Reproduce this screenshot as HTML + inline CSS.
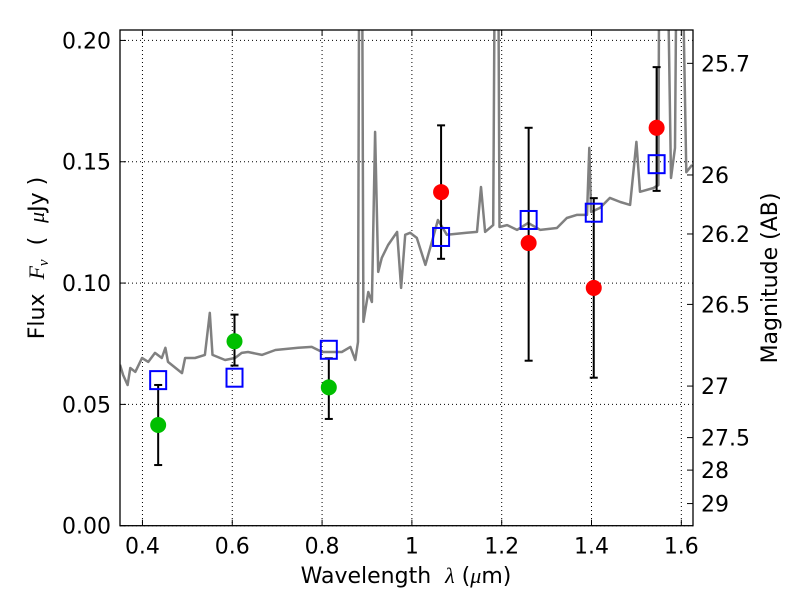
<!DOCTYPE html>
<html><head><meta charset="utf-8">
<style>
html,body{margin:0;padding:0;background:#fff;}
svg{display:block;font-family:"DejaVu Sans","Liberation Sans",sans-serif;}
</style></head>
<body>
<svg id="chart" width="800" height="600" viewBox="0 0 800 600" xmlns="http://www.w3.org/2000/svg">
<rect x="0" y="0" width="800" height="600" fill="#fff"/>
<g id="grid"></g>
<g id="spec"></g>
<g id="marks"></g>
<g id="axes"></g>
<text x="406" y="583" font-size="22" text-anchor="middle" xml:space="preserve">Wavelength  <tspan font-family="Liberation Serif,serif" font-style="italic">λ</tspan> (<tspan font-family="Liberation Serif,serif" font-style="italic">μ</tspan>m)</text>
<text transform="translate(44,258) rotate(-90)" font-size="22" text-anchor="middle" xml:space="preserve">Flux  <tspan font-family="Liberation Serif,serif" font-style="italic">F<tspan font-size="15" dy="4">ν</tspan></tspan><tspan dy="-4">  (  </tspan><tspan font-family="Liberation Serif,serif" font-style="italic">μ</tspan>Jy )</text>
<text transform="translate(777,278) rotate(-90)" font-size="22" text-anchor="middle">Magnitude (AB)</text>
</svg>
<script>
const specWave = [0.350,0.357,0.367,0.373,0.384,0.399,0.413,0.428,0.443,0.451,0.457,0.488,0.495,0.517,0.539,0.550,0.556,0.584,0.606,0.621,0.635,0.666,0.696,0.747,0.777,0.800,0.844,0.863,0.874,0.880,0.883,0.889,0.892,0.903,0.911,0.918,0.925,0.933,0.947,0.967,0.976,0.985,0.996,1.011,1.030,1.047,1.058,1.078,1.122,1.145,1.154,1.163,1.181,1.185,1.192,1.195,1.212,1.234,1.259,1.286,1.323,1.345,1.367,1.390,1.395,1.399,1.419,1.441,1.464,1.486,1.500,1.508,1.538,1.549,1.551,1.568,1.577,1.586,1.590,1.601,1.611,1.624];
const specFlux = [0.0663,0.0621,0.0580,0.0650,0.0634,0.0691,0.0675,0.0712,0.0691,0.0733,0.0675,0.0629,0.0691,0.0691,0.0704,0.0877,0.0704,0.0683,0.0691,0.0712,0.0716,0.0704,0.0724,0.0733,0.0737,0.0716,0.0716,0.0737,0.0683,0.0757,0.25,0.25,0.0840,0.0963,0.0922,0.1623,0.1046,0.1104,0.1157,0.1211,0.0980,0.1199,0.1207,0.1186,0.1075,0.1186,0.1260,0.1199,0.1207,0.1211,0.1396,0.1211,0.1239,0.25,0.25,0.1231,0.1239,0.1219,0.1248,0.1219,0.1227,0.1268,0.1281,0.1281,0.1557,0.1293,0.1310,0.1351,0.1334,0.1322,0.1582,0.1376,0.1392,0.1404,0.25,0.25,0.1433,0.1557,0.25,0.25,0.1457,0.1487];
const greenWave = [0.435,0.605,0.815];
const greenFlux = [0.0415,0.076,0.057];
const greenLo = [0.025,0.066,0.044];
const greenHi = [0.058,0.087,0.069];
const redWave = [1.065,1.26,1.405,1.545];
const redFlux = [0.1375,0.1165,0.098,0.164];
const redLo = [0.110,0.068,0.061,0.138];
const redHi = [0.165,0.164,0.135,0.189];
const modelWave = [0.435,0.605,0.815,1.065,1.26,1.405,1.545];
const modelFlux = [0.060,0.061,0.0725,0.119,0.126,0.129,0.149];
const xTicks = [0.4,0.6,0.8,1.0,1.2,1.4,1.6];
const xTickLabels = ["0.4","0.6","0.8","1","1.2","1.4","1.6"];
const yTicks = [0,0.05,0.10,0.15,0.20];
const yTickLabels = ["0.00","0.05","0.10","0.15","0.20"];
const magTicks = [25.7,26,26.2,26.5,27,27.5,28,29];
const magTickLabels = ["25.7","26","26.2","26.5","27","27.5","28","29"];

const L=120,R=693,T=30,B=525.7;
const xMin=0.35,xMax=1.626,yMin=0,yMax=0.2043;
const X=v=>L+(v-xMin)/(xMax-xMin)*(R-L);
const Y=v=>B-(v-yMin)/(yMax-yMin)*(B-T);
const NS="http://www.w3.org/2000/svg";
function mk(tag,attrs,parent,text){const e=document.createElementNS(NS,tag);for(const k in attrs)e.setAttribute(k,attrs[k]);if(text!==undefined)e.textContent=text;parent.appendChild(e);return e;}
const grid=document.getElementById('grid'),spec=document.getElementById('spec'),marks=document.getElementById('marks'),axes=document.getElementById('axes');

const defs=mk('defs',{},document.getElementById('chart'));
const cp=mk('clipPath',{id:'clip'},defs);
mk('rect',{x:L,y:T,width:R-L,height:B-T},cp);
spec.setAttribute('clip-path','url(#clip)');

xTicks.forEach((t,i)=>{
  const g=mk('line',{x1:X(t),x2:X(t),y1:T,y2:B,stroke:'#000','stroke-width':1,'stroke-dasharray':'1,3'},grid);
  
  
  const tk=mk('line',{x1:X(t),x2:X(t),y1:B,y2:B-6,stroke:'#000','stroke-width':1},axes);
  
  
  const tk2=mk('line',{x1:X(t),x2:X(t),y1:T,y2:T+6,stroke:'#000','stroke-width':1},axes);
  
  
  const lb=mk('text',{x:X(t),y:B+28,'font-size':22,'text-anchor':'middle'},axes,xTickLabels[i]);
  
  
});
yTicks.forEach((t,i)=>{
  const g=mk('line',{x1:L,x2:R,y1:Y(t),y2:Y(t),stroke:'#000','stroke-width':1,'stroke-dasharray':'1,3'},grid);
  
  
  const tk=mk('line',{x1:L,x2:L+6,y1:Y(t),y2:Y(t),stroke:'#000','stroke-width':1},axes);
  
  
  const lb=mk('text',{x:L-9,y:Y(t)+8,'font-size':22,'text-anchor':'end'},axes,yTickLabels[i]);
  
  
});
magTicks.forEach((m,i)=>{
  const f=3631e6*Math.pow(10,-0.4*m);
  const tk=mk('line',{x1:R,x2:R-6,y1:Y(f),y2:Y(f),stroke:'#000','stroke-width':1},axes);
  
  
  const lb=mk('text',{x:R+8,y:Y(f)+8,'font-size':22,'text-anchor':'start'},axes,magTickLabels[i]);
  
  
});

const pts=specWave.map((w,i)=>X(w).toFixed(1)+','+Y(specFlux[i]).toFixed(1)).join(' ');
const pl=mk('polyline',{points:pts,fill:'none',stroke:'#808080','stroke-width':2.5,'stroke-linejoin':'round'},spec);



function errbars(ws,fs,lo,hi,color,name){
  ws.forEach((w,i)=>{
    const x=X(w);
    const e=mk('line',{x1:x,x2:x,y1:Y(lo[i]),y2:Y(hi[i]),stroke:'#000','stroke-width':2},marks);
    
    
    [lo[i],hi[i]].forEach(v=>{
      const c=mk('line',{x1:x-4,x2:x+4,y1:Y(v),y2:Y(v),stroke:'#000','stroke-width':2},marks);
      
      
    });
    const p=mk('circle',{cx:x,cy:Y(fs[i]),r:8,fill:color},marks);
    
    
  });
}
errbars(greenWave,greenFlux,greenLo,greenHi,'#00bf00','green');
errbars(redWave,redFlux,redLo,redHi,'#ff0000','red');
modelWave.forEach((w,i)=>{
  const s=mk('rect',{x:X(w)-8,y:Y(modelFlux[i])-9,width:16,height:18,fill:'none',stroke:'#0000ff','stroke-width':2},marks);
  
  
});
const fr=mk('rect',{x:L,y:T,width:R-L,height:B-T,fill:'none',stroke:'#000','stroke-width':1.3},axes);


</script>
</body></html>
